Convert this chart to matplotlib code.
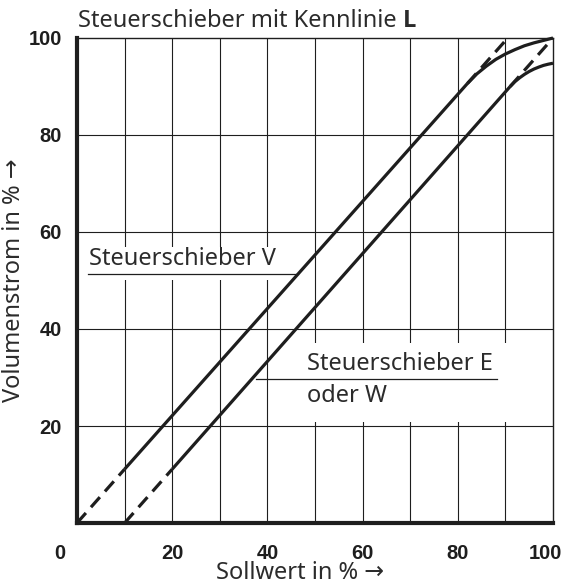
import matplotlib.pyplot as plt
from matplotlib import font_manager
from matplotlib.transforms import ScaledTranslation

# --- data ---
x_ticks = [0, 20, 40, 60, 80, 100]
y_ticks = [20, 40, 60, 80, 100]
x_grid = [10, 20, 30, 40, 50, 60, 70, 80, 90]
y_grid = [20, 40, 60, 80]

# Steuerschieber V
v_dash_lo_x = [0, 10]
v_dash_lo_y = [0, 11.1]
v_solid_x = [10, 82]
v_solid_y = [11.1, 90.6]
v_curve_x = [82, 84, 86, 88, 90, 92, 94, 96, 98, 100]
v_curve_y = [90.6, 92.6, 94.2, 95.6, 96.7, 97.6, 98.4, 99.0, 99.5, 100]
v_dash_hi_x = [82, 90.5]
v_dash_hi_y = [90.6, 100]

# Steuerschieber E oder W
e_dash_lo_x = [10, 20]
e_dash_lo_y = [0, 11.1]
e_solid_x = [20, 91]
e_solid_y = [11.1, 90.0]
e_curve_x = [91, 92, 93, 94, 95, 96, 97, 98, 99, 100]
e_curve_y = [90.0, 91.0, 91.8, 92.5, 93.1, 93.6, 94.0, 94.35, 94.6, 94.8]
e_dash_hi_x = [91, 100]
e_dash_hi_y = [90.0, 100]

INK = '#1e1e1e'
TXT = '#2b2b2b'

fonts = font_manager.fontManager.ttflist
names = {f.name for f in fonts}
tick_font = 'Liberation Sans Narrow' if 'Liberation Sans Narrow' in names else 'Liberation Sans'
text_font = 'Noto Sans'
bold_font = text_font
has_bold = any(f.name == text_font and f.weight in ('bold', 700, 600, 'semibold') for f in fonts)
if not has_bold:
    for cand in ['Open Sans', 'Lato', 'Roboto', 'Liberation Sans', 'DejaVu Sans']:
        if any(f.name == cand and f.weight in ('bold', 700) for f in fonts):
            bold_font = cand
            break
FS = 17

fig = plt.figure(figsize=(5.61, 5.83), dpi=100)
ax = fig.add_axes([77 / 561, 1 - 523 / 583, 476 / 561, 485 / 583])
ax.set_xlim(0, 100)
ax.set_ylim(0, 100)

# grid
for gx in x_grid:
    ax.axvline(gx, color=INK, lw=0.8, zorder=1)
for gy in y_grid:
    ax.axhline(gy, color=INK, lw=0.8, zorder=1)

# white label boxes that cut the grid
ax.fill_between([0.3, 46], 50.1, 56.9, color='white', zorder=2, lw=0)
ax.fill_between([40.7, 99.7], 20.8, 37.1, color='white', zorder=2, lw=0)

lw = 2.3
dash = (4.2, 2.4)
kw = dict(color=INK, lw=lw, zorder=4, clip_on=False, solid_capstyle='butt')
for xs, ys in [(v_solid_x, v_solid_y), (v_curve_x, v_curve_y),
               (e_solid_x, e_solid_y), (e_curve_x, e_curve_y)]:
    ax.plot(xs, ys, **kw)
for xs, ys in [(v_dash_lo_x, v_dash_lo_y), (v_dash_hi_x, v_dash_hi_y),
               (e_dash_lo_x, e_dash_lo_y), (e_dash_hi_x, e_dash_hi_y)]:
    ax.plot(xs, ys, dashes=dash, **kw)

# labels with underline
ax.text(2.5, 53.2, 'Steuerschieber V', fontsize=FS, family=text_font,
        color=TXT, va='baseline', ha='left', zorder=3)
ax.plot([2.3, 46.5], [51.3, 51.3], color=INK, lw=0.9, zorder=3)
ax.text(48.3, 31.5, 'Steuerschieber E', fontsize=FS, family=text_font,
        color=TXT, va='baseline', ha='left', zorder=3)
ax.text(48.3, 24.9, 'oder W', fontsize=FS, family=text_font,
        color=TXT, va='baseline', ha='left', zorder=3)
ax.plot([37.5, 88.2], [29.7, 29.7], color=INK, lw=0.9, zorder=3)

# spines
for side in ['left', 'bottom']:
    ax.spines[side].set_linewidth(3.0)
    ax.spines[side].set_color(INK)
for side in ['top', 'right']:
    ax.spines[side].set_linewidth(1.0)
    ax.spines[side].set_color(INK)

ax.set_xticks(x_ticks)
ax.set_yticks(y_ticks)
ax.tick_params(length=0)
ax.tick_params(axis='x', pad=15)
ax.tick_params(axis='y', pad=11)
for lab in ax.get_xticklabels() + ax.get_yticklabels():
    lab.set_family(tick_font)
    lab.set_fontweight('bold')
    lab.set_fontsize(14.5)
    lab.set_color(INK)

# first and last x labels sit a bit left of their grid line
xt = ax.xaxis.get_major_ticks()
xt[0].label1.set_transform(xt[0].label1.get_transform()
                           + ScaledTranslation(-0.17, 0, fig.dpi_scale_trans))
xt[-1].label1.set_transform(xt[-1].label1.get_transform()
                            + ScaledTranslation(-0.08, 0, fig.dpi_scale_trans))

ax.set_xlabel('Sollwert in % →', fontsize=FS, family=[text_font, 'DejaVu Sans'],
              color=TXT)
ax.xaxis.set_label_coords(0.469, -0.079)
ax.set_ylabel('Volumenstrom in % →', fontsize=FS, family=[text_font, 'DejaVu Sans'],
              color=TXT)
ax.yaxis.set_label_coords(-0.107, 0.5)

t = ax.text(0.003, 1.0227, 'Steuerschieber mit Kennlinie ', transform=ax.transAxes,
            fontsize=FS, family=text_font, color=TXT, ha='left', va='baseline')
ax.annotate('L', xy=(1, 0), xycoords=t, fontsize=FS, family=bold_font,
            fontweight='bold', color=TXT, ha='left', va='bottom')

fig.savefig('out.png', dpi=100)
